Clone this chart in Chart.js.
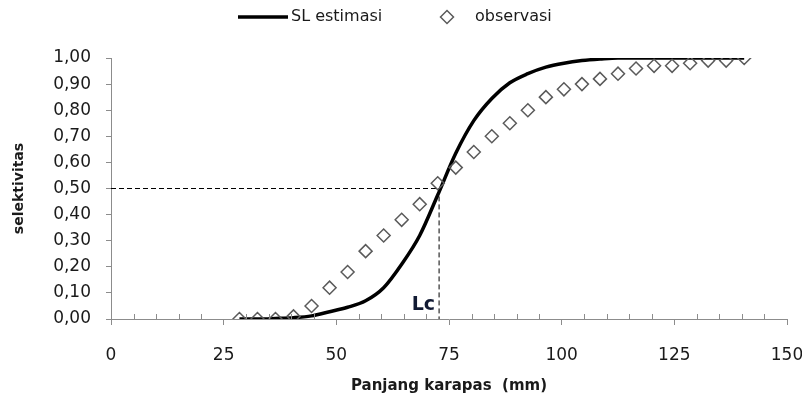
<!DOCTYPE html>
<html>
<head>
<meta charset="utf-8">
<script src="https://cdn.jsdelivr.net/npm/chart.js@4.4.0/dist/chart.umd.min.js"></script>
<style>
  html, body { margin: 0; padding: 0; background: #fff; }
  #wrap { width: 802px; height: 405px; }
</style>
</head>
<body>
<div id="wrap"><canvas id="chart"></canvas></div>
<script>
// class midpoints of carapace length (mm)
const lengths = [28.5, 32.5, 36.5, 40.5, 44.5, 48.5, 52.5, 56.5, 60.5, 64.5,
                 68.5, 72.5, 76.5, 80.5, 84.5, 88.5, 92.5, 96.5, 100.5, 104.5,
                 108.5, 112.5, 116.5, 120.5, 124.5, 128.5, 132.5, 136.5, 140.5];
const observed = [0.00, 0.00, 0.00, 0.01, 0.05, 0.12, 0.18, 0.26, 0.32, 0.38,
                  0.44, 0.52, 0.58, 0.64, 0.70, 0.75, 0.80, 0.85, 0.88, 0.90,
                  0.92, 0.94, 0.96, 0.97, 0.97, 0.98, 0.99, 0.99, 1.00];
const estimated = [0.00, 0.00, 0.002, 0.005, 0.012, 0.028, 0.045, 0.07, 0.12, 0.21,
                   0.32, 0.475, 0.635, 0.76, 0.845, 0.905, 0.94, 0.965, 0.98, 0.99,
                   0.996, 1.00, 1.00, 1.00, 1.00, 1.00, 1.00, 1.00, 1.00];
const lc = 72.8;
const xTicks = [0, 25, 50, 75, 100, 125, 150];
const seriesNames = ['SL estimasi', 'observasi'];

const toPoints = (xs, ys) => xs.map((x, i) => ({ x: x, y: ys[i] }));
const comma = v => v.toFixed(2).replace('.', ',');

// legend, minor x ticks and the "Lc" label
const extras = {
  id: 'extras',
  afterDraw(chart) {
    const { ctx, scales: { x, y } } = chart;
    const y0 = y.getPixelForValue(0);
    ctx.save();

    ctx.strokeStyle = '#8c8c8c';
    ctx.lineWidth = 1;
    x.ticks.forEach(t => {
      if (t.value % 25 === 0) return;
      const px = Math.round(x.getPixelForValue(t.value)) + 0.5;
      ctx.beginPath();
      ctx.moveTo(px, y0);
      ctx.lineTo(px, y0 - 5);
      ctx.stroke();
    });

    ctx.fillStyle = '#111a33';
    ctx.font = 'bold 19px "DejaVu Sans"';
    ctx.textAlign = 'right';
    ctx.textBaseline = 'alphabetic';
    ctx.fillText('Lc', x.getPixelForValue(lc) - 4, y0 - 9);

    // legend
    const ly = 17;
    ctx.strokeStyle = '#000';
    ctx.lineWidth = 3.5;
    ctx.beginPath();
    ctx.moveTo(238, ly);
    ctx.lineTo(288, ly);
    ctx.stroke();
    ctx.strokeStyle = '#5a5a5a';
    ctx.fillStyle = '#fff';
    ctx.lineWidth = 1.5;
    Chart.helpers.drawPoint(ctx, {
      pointStyle: 'rectRot', radius: 6.5, borderWidth: 1.5
    }, 447, ly);
    ctx.fillStyle = '#1a1a1a';
    ctx.font = '16px "DejaVu Sans"';
    ctx.textAlign = 'left';
    ctx.textBaseline = 'middle';
    ctx.fillText(seriesNames[0], 291, ly);
    ctx.fillText(seriesNames[1], 475, ly);
    ctx.restore();
  }
};

new Chart(document.getElementById('chart'), {
  type: 'scatter',
  data: {
    datasets: [
      {
        label: seriesNames[0],
        data: toPoints(lengths, estimated),
        showLine: true,
        borderColor: '#000',
        borderWidth: 3.5,
        pointRadius: 0,
        cubicInterpolationMode: 'monotone',
        order: 1
      },
      {
        label: seriesNames[1],
        data: toPoints(lengths, observed),
        borderColor: '#5a5a5a',
        backgroundColor: 'rgba(255,255,255,0)',
        borderWidth: 1.5,
        pointRadius: 6.5,
        pointStyle: 'rectRot',
        order: 0
      },
      {
        label: 'Lc',
        data: [{ x: 0, y: 0.5 }, { x: lc, y: 0.5 }, { x: lc, y: 0 }],
        showLine: true,
        borderColor: '#000',
        borderWidth: 1,
        borderDash: [5, 3],
        pointRadius: 0,
        order: 2
      }
    ]
  },
  options: {
    responsive: true,
    maintainAspectRatio: false,
    animation: false,
    layout: { padding: { top: 58, right: 0, left: 0, bottom: 0 } },
    plugins: {
      tooltip: { enabled: false },
      legend: { display: false }
    },
    scales: {
      x: {
        type: 'linear',
        min: 0,
        max: 150,
        afterFit: s => { s.height = 86; s.paddingLeft = 0; s.paddingRight = 15; },
        ticks: {
          stepSize: 5,
          autoSkip: false,
          maxRotation: 0,
          padding: 20,
          color: '#1a1a1a',
          font: { family: '"DejaVu Sans"', size: 17 },
          callback: v => (xTicks.includes(v) ? String(v) : '')
        },
        grid: {
          drawOnChartArea: false,
          tickLength: 6,
          color: c => (c.tick && c.tick.value % 25 === 0 ? '#8c8c8c' : 'rgba(0,0,0,0)')
        },
        border: { display: true, color: '#8c8c8c', width: 1 },
        title: {
          display: true,
          text: 'Panjang karapas  (mm)',
          color: '#1a1a1a',
          font: { family: '"DejaVu Sans"', size: 15, weight: 'bold' },
          padding: { top: 0, bottom: 10 }
        }
      },
      y: {
        min: 0,
        max: 1,
        afterFit: s => { s.width = 111; },
        ticks: {
          stepSize: 0.1,
          padding: 15,
          color: '#1a1a1a',
          font: { family: '"DejaVu Sans"', size: 17 },
          callback: v => comma(v)
        },
        grid: { drawOnChartArea: false, tickLength: 5, color: '#8c8c8c' },
        border: { display: true, color: '#8c8c8c', width: 1 },
        title: {
          display: true,
          text: 'selektivitas',
          color: '#1a1a1a',
          font: { family: '"DejaVu Sans"', size: 14, weight: 'bold' },
          padding: { top: 11, bottom: 0 }
        }
      }
    }
  },
  plugins: [extras]
});
</script>
</body>
</html>
